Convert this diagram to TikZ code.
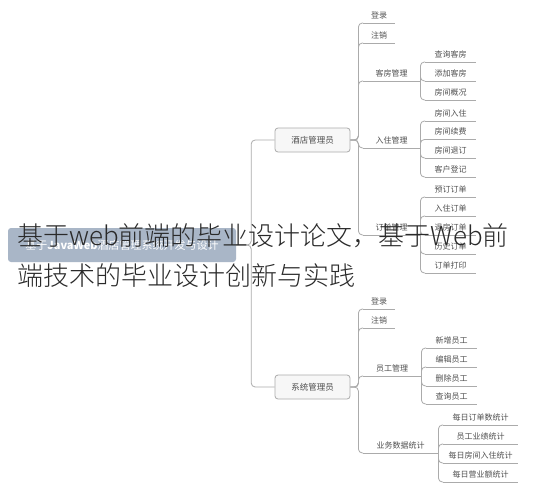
\documentclass[tikz,border=0pt]{standalone}
\usepackage{fontspec}
\setmainfont{Noto Sans CJK SC}
\IfFontExistsTF{Noto Sans CJK SC Light}
  {\newfontfamily\bigfont{Noto Sans CJK SC Light}}
  {\IfFontExistsTF{Noto Sans CJK SC DemiLight}
    {\newfontfamily\bigfont{Noto Sans CJK SC DemiLight}}
    {\newfontfamily\bigfont{Noto Sans CJK SC}}}
\usetikzlibrary{calc}
\definecolor{ln}{HTML}{ABABAB}
\definecolor{tx}{HTML}{505050}
\definecolor{rootc}{HTML}{A9B6C7}
\definecolor{boxf}{HTML}{F7F7F7}
\definecolor{big}{HTML}{2A2A2A}
\tikzset{
  conn/.style={draw=ln, line width=0.8pt, rounded corners=4pt},
  uline/.style={draw=ln, line width=0.8pt},
  lf/.style={inner sep=0pt, anchor=south west, minimum height=15pt, text=tx,
    font=\fontsize{8}{9}\selectfont,
    append after command={(\tikzlastnode.south west) edge[uline] (\tikzlastnode.south east)}},
  rolebox/.style={draw=ln, fill=boxf, line width=0.8pt, rounded corners=3pt,
    minimum width=75pt, minimum height=24pt, inner sep=0pt, text=tx,
    font=\fontsize{8.5}{10}\selectfont},
  rootbox/.style={fill=rootc, rounded corners=3pt, minimum width=228pt,
    minimum height=34pt, inner sep=0pt, text=white, font=\fontsize{11}{13}\selectfont},
  bigtext/.style={anchor=base west, inner sep=0pt, text=big, font=\bigfont\fontsize{26}{40}\selectfont}
}
\begin{document}
\begin{tikzpicture}[x=1pt,y=-1pt]
\useasboundingbox[fill=white] (0,0) rectangle (535,490);

% role boxes
\node[rolebox] (hotel) at (312.5,140) {酒店管理员};
\node[rolebox] (sys) at (312.5,387) {系统管理员};

% hotel admin branch
\node[lf, minimum width=32pt] (h1) at (363,23) {登录};
\node[lf, minimum width=32pt] (h2) at (363,43) {注销};
\node[lf, minimum width=57pt] (h3) at (363,81) {客房管理};
\node[lf, minimum width=57pt] (h4) at (363,148) {入住管理};
\node[lf, minimum width=57pt] (h5) at (363,235) {订单管理};

\node[lf, minimum width=51pt] (r1) at (425,62) {查询客房};
\node[lf, minimum width=51pt] (r2) at (425,81) {添加客房};
\node[lf, minimum width=51pt] (r3) at (425,100) {房间概况};

\node[lf, minimum width=51pt] (c1) at (425,121) {房间入住};
\node[lf, minimum width=51pt] (c2) at (425,139.5) {房间续费};
\node[lf, minimum width=51pt] (c3) at (425,158) {房间退订};
\node[lf, minimum width=51pt] (c4) at (425,177) {客户登记};

\node[lf, minimum width=51pt] (o1) at (425,197) {预订订单};
\node[lf, minimum width=51pt] (o2) at (425,216) {入住订单};
\node[lf, minimum width=51pt] (o3) at (425,235) {退房订单};
\node[lf, minimum width=51pt] (o4) at (425,254) {历史订单};
\node[lf, minimum width=51pt] (o5) at (425,273) {订单打印};

% system admin branch
\node[lf, minimum width=32pt] (s1) at (363,309) {登录};
\node[lf, minimum width=32pt] (s2) at (363,328) {注销};
\node[lf, minimum width=58pt] (s3) at (363,376) {员工管理};
\node[lf, minimum width=75pt] (s4) at (363,453) {业务数据统计};

\node[lf, minimum width=51pt] (e1) at (426,348) {新增员工};
\node[lf, minimum width=51pt] (e2) at (426,367) {编辑员工};
\node[lf, minimum width=51pt] (e3) at (426,386) {删除员工};
\node[lf, minimum width=51pt] (e4) at (426,404) {查询员工};

\node[lf, minimum width=75pt] (t1) at (443,425) {每日订单数统计};
\node[lf, minimum width=75pt] (t2) at (443,444) {员工业绩统计};
\node[lf, minimum width=75pt] (t3) at (443,463) {每日房间入住统计};
\node[lf, minimum width=75pt] (t4) at (443,482) {每日营业额统计};

% connectors
\foreach \c in {h1,h2,h3,h4,h5} \draw[conn] (hotel.east) -- ++(8,0) |- (\c.south west);
\foreach \c in {r1,r2,r3} \draw[conn] (h3.south east) |- (\c.south west);
\foreach \c in {c1,c2,c3,c4} \draw[conn] (h4.south east) |- (\c.south west);
\foreach \c in {o1,o2,o3,o4,o5} \draw[conn] (h5.south east) |- (\c.south west);
\foreach \c in {s1,s2,s3,s4} \draw[conn] (sys.east) -- ++(8,0) |- (\c.south west);
\foreach \c in {e1,e2,e3,e4} \draw[conn] (s3.south east) |- (\c.south west);
\foreach \c in {t1,t2,t3,t4} \draw[conn] (s4.south east) |- (\c.south west);

% root
\node[rootbox] (root) at (122,245) {基于{\bfseries JavaWeb}酒店管理系统开发与设计};
\draw[conn] (root.east) -- ++(15,0) |- (hotel.west);
\draw[conn] (root.east) -- ++(15,0) |- (sys.west);

% overlay title
\node[bigtext] (title1) at (17,245) {基于web前端的毕业设计论文，基于Web前};
\node[bigtext] (title2) at (17,285) {端技术的毕业设计创新与实践};
\end{tikzpicture}
\end{document}
